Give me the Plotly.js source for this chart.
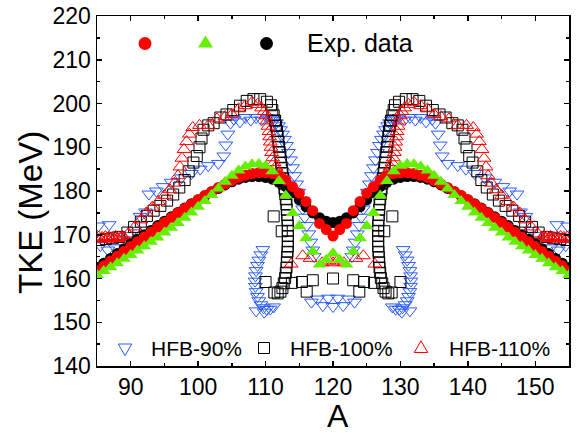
<!DOCTYPE html>
<html><head><meta charset="utf-8">
<script src="https://cdn.plot.ly/plotly-3.0.1.min.js"></script>
<style>html,body{margin:0;padding:0;background:#fff}#chart{width:580px;height:433px}</style>
</head><body><div id="chart"></div>
<script>
// Mass number A (integer grid used by the experimental data and the two filled theory series)
const massA = [85,86,87,88,89,90,91,92,93,94,95,96,97,98,99,100,101,102,103,104,105,106,107,108,109,110,111,112,113,114,115,116,117,118,119,120,
  121,122,123,124,125,126,127,128,129,130,131,132,133,134,135,136,137,138,139,140,141,142,143,144,145,146,147,148,149,150,151,152,153,154,155];
// Exp. data (black filled circles), TKE in MeV
const expT = [162.5,163.5,164.6,165.7,166.8,167.9,169.0,170.0,171.0,172.1,173.1,174.1,175.1,176.1,177.1,178.0,178.9,179.8,180.6,181.4,182.1,182.7,183.1,183.3,183.3,183.1,182.7,182.0,181.0,179.6,178.0,176.4,175.0,173.9,173.1,172.8,
  173.1,173.9,175.0,176.4,178.0,179.6,181.0,182.0,182.7,183.1,183.3,183.3,183.1,182.7,182.1,181.4,180.6,179.8,178.9,178.0,177.1,176.1,175.1,174.1,173.1,172.1,171.0,170.0,169.0,167.9,166.8,165.7,164.6,163.5,162.5];
// Red filled circles
const redT = [161.8,162.9,164.0,165.1,166.2,167.3,168.4,169.5,170.6,171.7,172.8,173.9,175.0,176.0,177.0,178.0,179.0,179.9,180.8,181.6,182.4,183.1,183.6,184.0,184.2,184.2,184.0,183.5,182.5,181.0,179.5,177.6,175.5,172.6,171.2,169.7,
  171.2,172.6,175.5,177.6,179.5,181.0,182.5,183.5,184.0,184.2,184.2,184.0,183.6,183.1,182.4,181.6,180.8,179.9,179.0,178.0,177.0,176.0,175.0,173.9,172.8,171.7,170.6,169.5,168.4,167.3,166.2,165.1,164.0,162.9,161.8];
// Green filled triangles
const greenT = [160.8,161.7,162.6,163.5,164.5,165.4,166.4,167.4,168.4,169.4,170.5,171.6,172.7,173.9,175.1,176.4,177.7,179.1,180.6,182.1,183.5,184.7,185.6,186.1,186.2,185.8,184.5,182.3,179.0,175.0,172.0,169.2,166.2,163.2,164.3,165.8,
  164.3,163.2,166.2,169.2,172.0,175.0,179.0,182.3,184.5,185.8,186.2,186.1,185.6,184.7,183.5,182.1,180.6,179.1,177.7,176.4,175.1,173.9,172.7,171.6,170.5,169.4,168.4,167.4,166.4,165.4,164.5,163.5,162.6,161.7,160.8];

// HFB-90% (blue open down-triangles): [A, TKE]
const hfb90 = [
 [85.2,172.0],[86.8,172.3],[85.5,167.5],[86.6,166.5],[87.7,167.0],[88.7,168.3],[89.8,169.8],[90.6,171.0],[91.4,174.2],[92.2,175.2],[92.7,179.3],[93.8,180.0],[94.8,181.0],[96.0,182.0],[97.5,183.0],[99.0,184.0],[100.3,185.0],[101.5,185.8],[103.0,186.3],[103.8,188.0],[104.1,190.5],[104.4,193.0],[104.8,195.5],[105.3,196.4],[106.2,195.8],[107.0,196.8],[107.8,196.2],[108.6,196.8],[109.4,196.2],[110.2,196.8],[110.6,196.5],
 [111.0,196.6],[111.3,196.2],[111.6,195.6],[111.9,194.9],[112.2,194.0],[112.5,193.0],[112.8,191.8],[113.1,190.4],[113.4,188.8],[113.7,187.1],[114.0,185.3],[114.3,183.5],[114.6,181.6],[114.9,179.7],[115.2,177.8],[115.5,175.9],[115.8,174.0],[116.1,172.1],[116.4,170.2],[116.7,168.3],[117.0,166.5],[117.2,165.0],
 [109.6,166.6],[109.3,165.4],[109.0,164.2],[108.8,163.0],[108.6,161.8],[108.5,160.6],[108.45,159.4],[108.5,158.2],[108.6,157.0],[108.8,155.9],[109.0,154.9],[109.3,154.0],[109.7,153.3],[110.2,152.9],[110.7,153.0],[111.2,153.5],[108.6,152.6],[109.8,152.3],
 [116.8,154.6],[117.7,155.3],[118.5,153.8],[119.3,155.5],[120.0,153.6],
 [120.7,155.5],[121.5,153.8],[122.3,155.3],[123.2,154.6],
 [130.4,166.6],[130.7,165.4],[131.0,164.2],[131.2,163.0],[131.4,161.8],[131.5,160.6],[131.55,159.4],[131.5,158.2],[131.4,157.0],[131.2,155.9],[131.0,154.9],[130.7,154.0],[130.3,153.3],[129.8,152.9],[129.3,153.0],[128.8,153.5],[131.4,152.6],[130.2,152.3],
 [129.0,196.6],[128.7,196.2],[128.4,195.6],[128.1,194.9],[127.8,194.0],[127.5,193.0],[127.2,191.8],[126.9,190.4],[126.6,188.8],[126.3,187.1],[126.0,185.3],[125.7,183.5],[125.4,181.6],[125.1,179.7],[124.8,177.8],[124.5,175.9],[124.2,174.0],[123.9,172.1],[123.6,170.2],[123.3,168.3],[123.0,166.5],[122.8,165.0],
 [154.8,172.0],[153.2,172.3],[154.5,167.5],[153.4,166.5],[152.3,167.0],[151.3,168.3],[150.2,169.8],[149.4,171.0],[148.6,174.2],[147.8,175.2],[147.3,179.3],[146.2,180.0],[145.2,181.0],[144.0,182.0],[142.5,183.0],[141.0,184.0],[139.7,185.0],[138.5,185.8],[137.0,186.3],[136.2,188.0],[135.9,190.5],[135.6,193.0],[135.2,195.5],[134.7,196.4],[133.8,195.8],[133.0,196.8],[132.2,196.2],[131.4,196.8],[130.6,196.2],[129.8,196.8],[129.4,196.5]
];

// HFB-100% (black open squares): [A, TKE]
const hfb100 = [
 [85.3,168.8],[86.3,169.0],[87.3,169.2],[88.3,169.5],[89.5,170.5],[90.5,171.8],[91.5,173.0],[92.4,174.3],[93.4,175.5],[94.4,176.6],[95.4,177.8],[96.3,179.2],[97.2,180.8],[98.0,182.5],[98.6,184.5],[99.3,186.5],[99.8,188.0],[100.2,190.0],[100.5,192.0],[100.8,194.0],[101.5,195.0],[102.3,195.5],[103.3,196.8],[104.2,197.5],[105.2,198.5],[106.2,199.5],[107.2,200.6],[108.2,201.0],[109.2,201.0],[110.2,200.4],
 [110.8,199.6],[111.0,198.5],[111.2,197.3],[111.4,196.1],[111.55,194.9],[111.7,193.7],[111.8,192.5],[111.9,191.3],[112.0,190.1],[112.1,188.9],[112.2,187.7],[112.3,186.5],[112.4,185.3],[112.5,184.1],[112.6,182.9],[112.7,181.7],[112.8,180.5],[112.9,179.3],[113.0,178.1],[113.1,176.9],[113.15,175.7],[113.2,174.5],[113.25,173.3],[113.3,172.1],[113.3,170.9],[113.3,169.7],[113.3,168.5],[113.3,167.3],[113.25,166.1],[113.2,164.9],[113.15,163.7],[113.1,162.5],[113.0,161.3],[112.9,160.1],[112.7,158.9],[112.5,157.8],[112.2,157.0],[111.8,156.6],[111.3,156.8],
 [110.0,159.2],[111.2,174.2],[112.4,170.8],[113.9,159.0],[115.4,159.2],[116.1,157.0],[117.0,159.6],[120.0,160.0],
 [123.0,159.6],[123.9,157.0],[124.6,159.2],[126.1,159.0],[127.6,170.8],[128.8,174.2],[130.0,159.2],
 [129.2,199.6],[129.0,198.5],[128.8,197.3],[128.6,196.1],[128.45,194.9],[128.3,193.7],[128.2,192.5],[128.1,191.3],[128.0,190.1],[127.9,188.9],[127.8,187.7],[127.7,186.5],[127.6,185.3],[127.5,184.1],[127.4,182.9],[127.3,181.7],[127.2,180.5],[127.1,179.3],[127.0,178.1],[126.9,176.9],[126.85,175.7],[126.8,174.5],[126.75,173.3],[126.7,172.1],[126.7,170.9],[126.7,169.7],[126.7,168.5],[126.7,167.3],[126.75,166.1],[126.8,164.9],[126.85,163.7],[126.9,162.5],[127.0,161.3],[127.1,160.1],[127.3,158.9],[127.5,157.8],[127.8,157.0],[128.2,156.6],[128.7,156.8],
 [154.7,168.8],[153.7,169.0],[152.7,169.2],[151.7,169.5],[150.5,170.5],[149.5,171.8],[148.5,173.0],[147.6,174.3],[146.6,175.5],[145.6,176.6],[144.6,177.8],[143.7,179.2],[142.8,180.8],[142.0,182.5],[141.4,184.5],[140.7,186.5],[140.2,188.0],[139.8,190.0],[139.5,192.0],[139.2,194.0],[138.5,195.0],[137.7,195.5],[136.7,196.8],[135.8,197.5],[134.8,198.5],[133.8,199.5],[132.8,200.6],[131.8,201.0],[130.8,201.0],[129.8,200.4]
];

// HFB-110% (red open up-triangles): [A, TKE]
const hfb110 = [
 [85.0,169.2],[85.25,169.5],[85.5,169.0],[85.75,169.4],[86.0,169.1],[86.25,169.6],[86.5,169.2],[86.75,169.5],[87.0,169.0],[87.25,169.4],[87.5,169.2],[87.75,169.6],[88.0,169.1],[88.25,169.5],[88.5,169.3],[88.75,169.6],[89.0,169.4],
 [89.6,170.2],[90.6,171.8],[91.5,173.4],[92.3,175.0],[93.2,176.3],[94.1,177.6],[95.0,179.0],[95.8,180.3],[96.5,181.8],[97.0,183.5],[97.3,185.5],[97.6,187.5],[97.9,189.5],[98.3,191.3],[98.7,193.0],[99.2,194.5],[100.2,195.0],[101.5,195.0],[102.8,196.5],[104.0,197.0],[105.0,197.5],[106.0,198.8],[107.0,199.5],[108.0,200.3],[108.8,199.8],[109.4,199.0],
 [109.8,198.2],[110.0,197.2],[110.2,196.0],[110.35,194.8],[110.5,193.6],[110.6,192.4],[110.7,191.2],[110.8,190.0],[110.9,188.8],[111.05,187.6],[111.25,186.5],[111.5,185.5],[111.8,184.6],[112.2,183.8],[112.6,183.0],[113.0,182.2],[113.4,181.5],
 [113.8,163.3],[115.5,165.2],[116.6,164.6],[118.4,163.6],[119.4,164.0],[120.0,163.6],
 [120.6,164.0],[121.6,163.6],[123.4,164.6],[124.5,165.2],[126.2,163.3],
 [130.2,198.2],[130.0,197.2],[129.8,196.0],[129.65,194.8],[129.5,193.6],[129.4,192.4],[129.3,191.2],[129.2,190.0],[129.1,188.8],[128.95,187.6],[128.75,186.5],[128.5,185.5],[128.2,184.6],[127.8,183.8],[127.4,183.0],[127.0,182.2],[126.6,181.5],
 [150.4,170.2],[149.4,171.8],[148.5,173.4],[147.7,175.0],[146.8,176.3],[145.9,177.6],[145.0,179.0],[144.2,180.3],[143.5,181.8],[143.0,183.5],[142.7,185.5],[142.4,187.5],[142.1,189.5],[141.7,191.3],[141.3,193.0],[140.8,194.5],[139.8,195.0],[138.5,195.0],[137.2,196.5],[136.0,197.0],[135.0,197.5],[134.0,198.8],[133.0,199.5],[132.0,200.3],[131.2,199.8],[130.6,199.0],
 [155.0,169.2],[154.75,169.5],[154.5,169.0],[154.25,169.4],[154.0,169.1],[153.75,169.6],[153.5,169.2],[153.25,169.5],[153.0,169.0],[152.75,169.4],[152.5,169.2],[152.25,169.6],[152.0,169.1],[151.75,169.5],[151.5,169.3],[151.25,169.6],[151.0,169.4]
];

const legendTopLabel = 'Exp. data';
const legendBottomLabels = ['HFB-90%', 'HFB-100%', 'HFB-110%'];
const axisTitles = {x: 'A', y: 'TKE (MeV)'};

const FONT = 'Liberation Sans, Arial, Helvetica, sans-serif';
const BLUE = '#2a5cff', RED = '#ff0000', GREEN = '#66ee00';

function openTrace(pts, symbol, color, size) {
  return {x: pts.map(p => p[0]), y: pts.map(p => p[1]), type: 'scatter', mode: 'markers',
    marker: {symbol: symbol, size: size, color: color, line: {color: color, width: 1}}, hoverinfo: 'x+y'};
}
function filledTrace(y, symbol, color, size) {
  return {x: massA, y: y, type: 'scatter', mode: 'markers',
    marker: {symbol: symbol, size: size, color: color, line: {width: 0}}, hoverinfo: 'x+y'};
}

const traces = [
  openTrace(hfb90, 'triangle-down-open', BLUE, 12),
  openTrace(hfb100, 'square-open', '#000000', 11),
  openTrace(hfb110, 'triangle-up-open', RED, 12),
  filledTrace(expT, 'circle', '#000000', 11),
  filledTrace(redT, 'circle', RED, 11),
  filledTrace(greenT, 'triangle-up', GREEN, 12)
];

const axisCommon = {
  showline: true, linecolor: '#000', linewidth: 1.5, mirror: 'ticks',
  ticks: 'inside', ticklen: 5, tickwidth: 1.5, tickcolor: '#000',
  showgrid: false, zeroline: false, tickmode: 'linear', dtick: 10,
  tickfont: {family: FONT, size: 23, color: '#000'}
};

const L = 97, R = 569, T = 16, B = 366;
const px = v => (v - L) / (R - L);
const py = v => (B - v) / (B - T);

function keyShape(xp, yp, path, fill, line) {
  return {type: 'path', xref: 'paper', yref: 'paper', xsizemode: 'pixel', ysizemode: 'pixel',
    xanchor: px(xp), yanchor: py(yp), path: path, fillcolor: fill, line: {color: line, width: fill === 'rgba(0,0,0,0)' ? 1 : 0}};
}
function keyCircle(xp, yp, color) {
  return {type: 'circle', xref: 'paper', yref: 'paper', xsizemode: 'pixel', ysizemode: 'pixel',
    xanchor: px(xp), yanchor: py(yp), x0: -6.5, x1: 6.5, y0: -6.5, y1: 6.5, fillcolor: color, line: {width: 0}};
}
const NONE = 'rgba(0,0,0,0)';
const shapes = [
  keyCircle(145, 43.5, RED),
  keyShape(205.5, 42.5, 'M-7.5,-5L7.5,-5L0,7Z', GREEN, GREEN),
  keyCircle(266.5, 43.5, '#000'),
  keyShape(125, 348.5, 'M-6.7,4.5L6.7,4.5L0,-7.2Z', NONE, BLUE),
  keyShape(264, 348, 'M-5.5,-5.5L5.5,-5.5L5.5,5.5L-5.5,5.5Z', NONE, '#000'),
  keyShape(421, 348, 'M-6.7,-4.5L6.7,-4.5L0,7.2Z', NONE, RED)
];

const annotations = [
  {text: legendTopLabel, x: px(305), y: py(43), xref: 'paper', yref: 'paper', xanchor: 'left', yanchor: 'middle', showarrow: false, font: {family: FONT, size: 25, color: '#000'}},
  {text: legendBottomLabels[0], x: px(149), y: py(348), xref: 'paper', yref: 'paper', xanchor: 'left', yanchor: 'middle', showarrow: false, font: {family: FONT, size: 21, color: '#000'}},
  {text: legendBottomLabels[1], x: px(288), y: py(348), xref: 'paper', yref: 'paper', xanchor: 'left', yanchor: 'middle', showarrow: false, font: {family: FONT, size: 21, color: '#000'}},
  {text: legendBottomLabels[2], x: px(447), y: py(348), xref: 'paper', yref: 'paper', xanchor: 'left', yanchor: 'middle', showarrow: false, font: {family: FONT, size: 21, color: '#000'}},
  {text: axisTitles.y, x: px(30), y: py(213), xref: 'paper', yref: 'paper', xanchor: 'center', yanchor: 'middle', textangle: -90, showarrow: false, font: {family: FONT, size: 33, color: '#000'}},
  {text: axisTitles.x, x: px(337.5), y: py(416), xref: 'paper', yref: 'paper', xanchor: 'center', yanchor: 'middle', showarrow: false, font: {family: FONT, size: 32, color: '#000'}}
];

const layout = {
  width: 580, height: 433, margin: {l: L, r: 580 - R, t: T, b: 433 - B, pad: 0},
  paper_bgcolor: '#fff', plot_bgcolor: '#fff', showlegend: false,
  xaxis: Object.assign({}, axisCommon, {range: [85, 155], tick0: 90,
    minor: {tickmode: 'linear', tick0: 85, dtick: 5, ticks: 'inside', ticklen: 3, tickwidth: 1.5, tickcolor: '#000', showgrid: false}}),
  yaxis: Object.assign({}, axisCommon, {range: [140, 220], tick0: 140,
    minor: {tickmode: 'linear', tick0: 145, dtick: 5, ticks: 'inside', ticklen: 3, tickwidth: 1.5, tickcolor: '#000', showgrid: false}}),
  shapes: shapes, annotations: annotations
};

Plotly.newPlot('chart', traces, layout, {displayModeBar: false, staticPlot: true});
</script>
</body></html>
